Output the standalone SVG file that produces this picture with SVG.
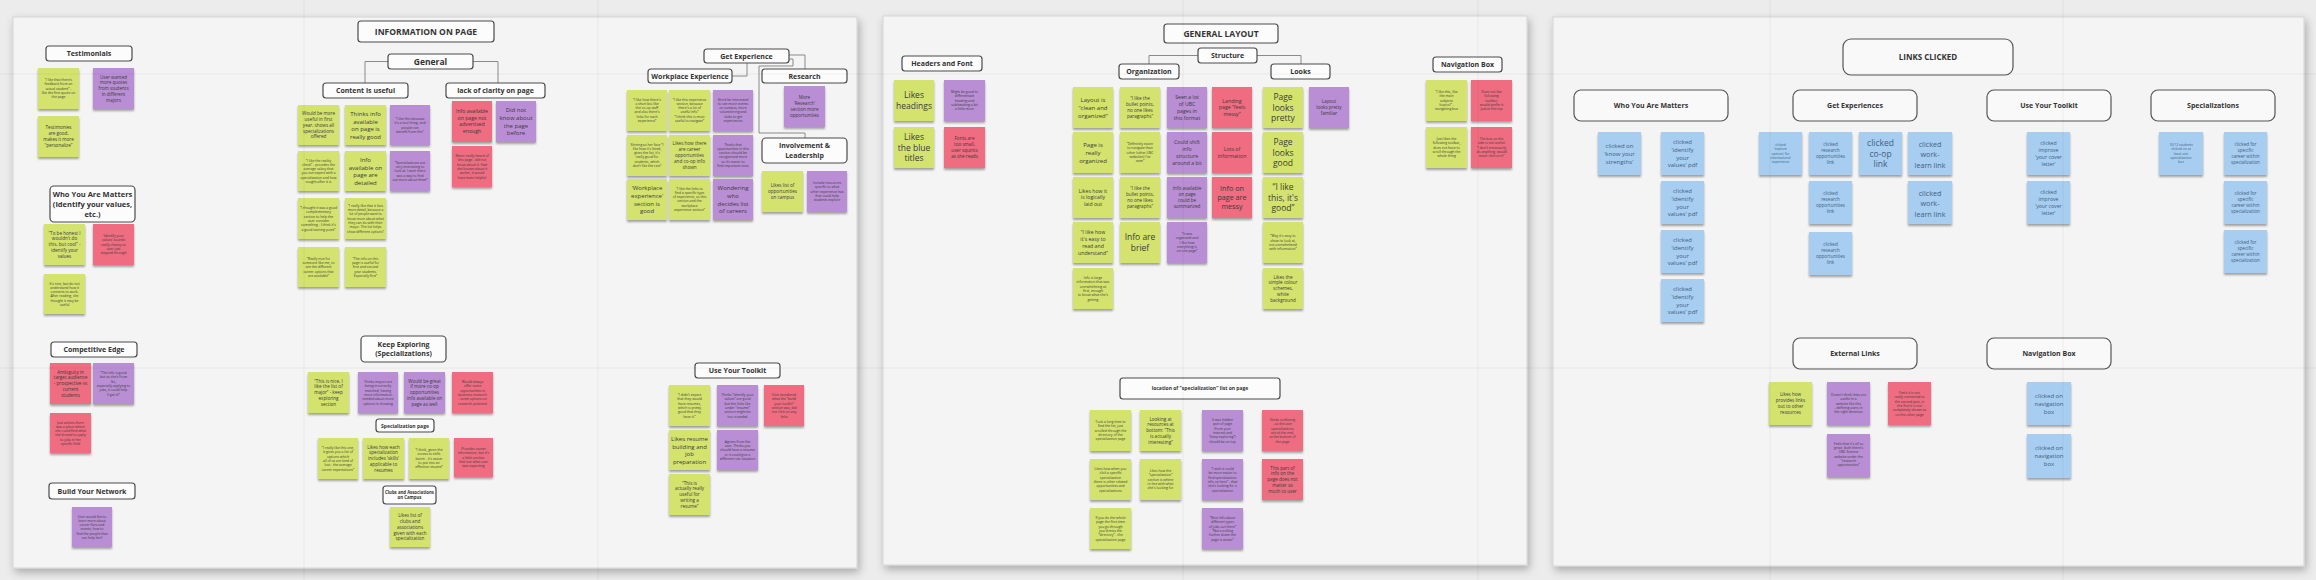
<svg xmlns="http://www.w3.org/2000/svg" width="2316" height="580" viewBox="0 0 2316 580">
<defs>
<filter id="ps" x="-5%" y="-5%" width="110%" height="112%"><feDropShadow dx="2" dy="4" stdDeviation="4" flood-color="#000" flood-opacity="0.28"/></filter>
<filter id="ss" x="-20%" y="-20%" width="140%" height="150%"><feDropShadow dx="0" dy="2" stdDeviation="1.2" flood-color="#000" flood-opacity="0.35"/></filter>
</defs>
<style>
.panel{fill:#f4f4f4;stroke:#d4d4d4;stroke-width:1;filter:url(#ps)}
.hb{fill:#fcfcfc;stroke:#4a4a4a;stroke-width:1.2}
.hb3{fill:#f9f9f9;stroke:#555;stroke-width:1.2}
.ht{font-family:"Open Sans","Liberation Sans",sans-serif;font-weight:700;fill:#333;text-anchor:middle}
.h85{font-size:8.5px}.h8{font-size:8px}.h75{font-size:7.5px}.h7{font-size:7px}.h5{font-size:5px}.h43{font-size:4.3px}
.sg,.sp,.sr,.sb{filter:url(#ss)}
.sg{fill:#d4e36e}.sp{fill:#b98ed5}.sr{fill:#ef6c81}.sb{fill:#a7cdf1}
.t{font-family:"Open Sans","Liberation Sans",sans-serif;fill:#3b3b3b;text-anchor:middle}
.tb{fill:#3f5f80}
.xs{font-size:3.4px}.s{font-size:4.6px}.ms{font-size:5.2px}.m{font-size:6px}.ml{font-size:7.2px}.l{font-size:8.5px}
.conn path{fill:none;stroke:#8a8a8a;stroke-width:1}
.grid line{stroke:#000;stroke-opacity:0.05;stroke-width:1}
</style>
<rect width="2316" height="580" fill="#ececec"/>
<g id="panels">
<rect class="panel" x="13" y="17" width="844" height="551"/>
<rect class="panel" x="883" y="16" width="644" height="549"/>
<rect class="panel" x="1553" y="17" width="751" height="549"/>
</g>
<g class="conn" id="connectors">
<path d="M388,61.5 H365 V83"/>
<path d="M473,61.5 H498 V83"/>
<path d="M747,63 V76 H732"/>
<path d="M789,55 H805 V69"/>
<path d="M789,59 H793 V66 H759 V133 H805 V138"/>
<path d="M1198,55.5 H1149 V64"/>
<path d="M1257,55.5 H1301 V64"/>
</g>

<!-- PANEL 1 -->
<g id="h-info"><rect class="hb" x="358" y="21" width="136" height="21" rx="3"/><text class="ht h85" x="426" y="34.8">INFORMATION ON PAGE</text></g>
<g id="h-general"><rect class="hb" x="388" y="54" width="85" height="15" rx="3"/><text class="ht h85" x="430.5" y="64.6">General</text></g>
<g id="h-content"><rect class="hb" x="323" y="83" width="85" height="15" rx="3"/><text class="ht h7" x="365.5" y="93.2">Content is useful</text></g>
<g id="h-lack"><rect class="hb" x="446" y="83" width="99" height="15" rx="3"/><text class="ht h7" x="495.5" y="93.2">lack of clarity on page</text></g>
<g id="h-testimonials"><rect class="hb" x="46" y="46" width="86" height="15" rx="3"/><text class="ht h7" x="89" y="56.2">Testimonials</text></g>
<g id="h-wyam1"><rect class="hb" x="50" y="186" width="85" height="36" rx="4"/><text class="ht h75" x="92.5" y="196.5"><tspan x="92.5">Who You Are Matters</tspan><tspan x="92.5" dy="10.3">(Identify your values,</tspan><tspan x="92.5" dy="10.3">etc.)</tspan></text></g>
<g id="h-competitive"><rect class="hb" x="51" y="342" width="86" height="15" rx="3"/><text class="ht h7" x="94" y="352.2">Competitive Edge</text></g>
<g id="h-network"><rect class="hb" x="49" y="483" width="86" height="16" rx="3"/><text class="ht h7" x="92" y="493.7">Build Your Network</text></g>
<g id="h-getexp"><rect class="hb" x="704" y="49" width="85" height="14" rx="3"/><text class="ht h7" x="746.5" y="58.7">Get Experience</text></g>
<g id="h-workplace"><rect class="hb" x="648" y="69" width="84" height="14" rx="3"/><text class="ht h7" x="690" y="78.7">Workplace Experience</text></g>
<g id="h-research"><rect class="hb" x="762" y="69" width="85" height="14" rx="3"/><text class="ht h7" x="804.5" y="78.7">Research</text></g>
<g id="h-involve"><rect class="hb" x="762" y="138" width="85" height="25" rx="4"/><text class="ht h7" x="804.5" y="148.2"><tspan x="804.5">Involvement &amp;</tspan><tspan x="804.5" dy="9.5">Leadership</tspan></text></g>
<g id="h-keep"><rect class="hb" x="361" y="336" width="85" height="26" rx="4"/><text class="ht h7" x="403.5" y="347"><tspan x="403.5">Keep Exploring</tspan><tspan x="403.5" dy="9">(Specializations)</tspan></text></g>
<g id="h-specpage"><rect class="hb" x="376" y="419" width="58" height="13" rx="3"/><text class="ht h5" x="405" y="427.5">Specialization page</text></g>
<g id="h-clubs"><rect class="hb" x="383" y="486" width="53" height="18" rx="3"/><text class="ht h43" x="409.5" y="493.7"><tspan x="409.5">Clubs and Associations</tspan><tspan x="409.5" dy="5.6">on Campus</tspan></text></g>
<g id="h-toolkit1"><rect class="hb" x="695" y="363" width="85" height="15" rx="3"/><text class="ht h7" x="737.5" y="373.2">Use Your Toolkit</text></g>

<g id="t1"><rect class="sg" x="38" y="68" width="41" height="41"/><text class="t xs" x="58.5" y="81.1"><tspan x="58.5">“I like that there's</tspan><tspan x="58.5" dy="4.3">feedback from an</tspan><tspan x="58.5" dy="4.3">actual student” -</tspan><tspan x="58.5" dy="4.3">like the first quote on</tspan><tspan x="58.5" dy="4.3">the page</tspan></text></g>
<g id="t2"><rect class="sp" x="93" y="68" width="41" height="41"/><text class="t s" x="113.5" y="78.5"><tspan x="113.5">User wanted</tspan><tspan x="113.5" dy="5.8">more quotes</tspan><tspan x="113.5" dy="5.8">from students</tspan><tspan x="113.5" dy="5.8">in different</tspan><tspan x="113.5" dy="5.8">majors</tspan></text></g>
<g id="t3"><rect class="sg" x="38" y="116" width="41" height="41"/><text class="t s" x="58.5" y="129.4"><tspan x="58.5">Testimonies</tspan><tspan x="58.5" dy="5.8">are good,</tspan><tspan x="58.5" dy="5.8">makes it more</tspan><tspan x="58.5" dy="5.8">“personalize”</tspan></text></g>
<g id="wy1"><rect class="sg" x="44" y="224" width="41" height="41"/><text class="t s" x="64.5" y="234.5"><tspan x="64.5">“To be honest I</tspan><tspan x="64.5" dy="5.8">wouldn't do</tspan><tspan x="64.5" dy="5.8">this, but cool” -</tspan><tspan x="64.5" dy="5.8">identify your</tspan><tspan x="64.5" dy="5.8">values</tspan></text></g>
<g id="wy2"><rect class="sr" x="93" y="224" width="41" height="41"/><text class="t xs" x="113.5" y="237.1"><tspan x="113.5">‘Identify your</tspan><tspan x="113.5" dy="4.3">values’ sounds</tspan><tspan x="113.5" dy="4.3">really cheesy so</tspan><tspan x="113.5" dy="4.3">user just</tspan><tspan x="113.5" dy="4.3">skipped through</tspan></text></g>
<g id="wy3"><rect class="sg" x="44" y="274" width="41" height="40"/><text class="t xs" x="64.5" y="284.5"><tspan x="64.5">It's nice, but do not</tspan><tspan x="64.5" dy="4.3">understand how it</tspan><tspan x="64.5" dy="4.3">connects to work.</tspan><tspan x="64.5" dy="4.3">After reading, she</tspan><tspan x="64.5" dy="4.3">thought it may be</tspan><tspan x="64.5" dy="4.3">useful</tspan></text></g>
<g id="ce1"><rect class="sr" x="50" y="363" width="41" height="41"/><text class="t s" x="70.5" y="373.5"><tspan x="70.5">Ambiguity in</tspan><tspan x="70.5" dy="5.8">target audience</tspan><tspan x="70.5" dy="5.8">- prospective vs</tspan><tspan x="70.5" dy="5.8">current</tspan><tspan x="70.5" dy="5.8">students</tspan></text></g>
<g id="ce2"><rect class="sp" x="93" y="363" width="41" height="41"/><text class="t xs" x="113.5" y="374"><tspan x="113.5">“The info is good</tspan><tspan x="113.5" dy="4.3">but as she's from</tspan><tspan x="113.5" dy="4.3">Sci,</tspan><tspan x="113.5" dy="4.3">especially applying to</tspan><tspan x="113.5" dy="4.3">jobs, it could help</tspan><tspan x="113.5" dy="4.3">(I get it)”</tspan></text></g>
<g id="ce3"><rect class="sr" x="50" y="413" width="41" height="40"/><text class="t xs" x="70.5" y="423.5"><tspan x="70.5">Just wishes there</tspan><tspan x="70.5" dy="4.3">was a place where</tspan><tspan x="70.5" dy="4.3">she could find what</tspan><tspan x="70.5" dy="4.3">she'd need to apply</tspan><tspan x="70.5" dy="4.3">to jobs in her</tspan><tspan x="70.5" dy="4.3">specific field</tspan></text></g>
<g id="bn1"><rect class="sp" x="72" y="507" width="40" height="40"/><text class="t xs" x="92" y="517.5"><tspan x="92">User would like to</tspan><tspan x="92" dy="4.3">learn more about</tspan><tspan x="92" dy="4.3">career fairs and</tspan><tspan x="92" dy="4.3">events; how to</tspan><tspan x="92" dy="4.3">find the people that</tspan><tspan x="92" dy="4.3">can help her?</tspan></text></g>

<g id="c1"><rect class="sg" x="298" y="105" width="41" height="40"/><text class="t s" x="318.5" y="115.2"><tspan x="318.5">Would be more</tspan><tspan x="318.5" dy="5.8">useful in first</tspan><tspan x="318.5" dy="5.8">year, shows all</tspan><tspan x="318.5" dy="5.8">specializations</tspan><tspan x="318.5" dy="5.8">offered</tspan></text></g>
<g id="c2"><rect class="sg" x="345" y="105" width="41" height="40"/><text class="t m" x="365.5" y="115.7"><tspan x="365.5">Thinks info</tspan><tspan x="365.5" dy="7.8">available</tspan><tspan x="365.5" dy="7.8">on page is</tspan><tspan x="365.5" dy="7.8">really good</tspan></text></g>
<g id="c3"><rect class="sp" x="390" y="105" width="40" height="40"/><text class="t xs" x="410" y="120"><tspan x="410">“I like this because</tspan><tspan x="410" dy="4.3">it's a tool thing, and</tspan><tspan x="410" dy="4.3">people can</tspan><tspan x="410" dy="4.3">benefit from this”</tspan></text></g>
<g id="c4"><rect class="sg" x="298" y="151" width="41" height="40"/><text class="t xs" x="318.5" y="161.5"><tspan x="318.5">“I like the reality</tspan><tspan x="318.5" dy="4.3">check” - provides the</tspan><tspan x="318.5" dy="4.3">average salary that</tspan><tspan x="318.5" dy="4.3">you can expect with a</tspan><tspan x="318.5" dy="4.3">specialization and how</tspan><tspan x="318.5" dy="4.3">sought-after it is</tspan></text></g>
<g id="c5"><rect class="sg" x="345" y="151" width="41" height="40"/><text class="t m" x="365.5" y="161.7"><tspan x="365.5">Info</tspan><tspan x="365.5" dy="7.8">available on</tspan><tspan x="365.5" dy="7.8">page are</tspan><tspan x="365.5" dy="7.8">detailed</tspan></text></g>
<g id="c6"><rect class="sp" x="390" y="151" width="40" height="40"/><text class="t xs" x="410" y="163.8"><tspan x="410">“Specializations are</tspan><tspan x="410" dy="4.3">very interesting to</tspan><tspan x="410" dy="4.3">look at. I wish there</tspan><tspan x="410" dy="4.3">was a way to find</tspan><tspan x="410" dy="4.3">out more about them”</tspan></text></g>
<g id="c7"><rect class="sg" x="298" y="198" width="41" height="41"/><text class="t xs" x="318.5" y="209"><tspan x="318.5">“I thought it was a good</tspan><tspan x="318.5" dy="4.3">complementary</tspan><tspan x="318.5" dy="4.3">section to help the</tspan><tspan x="318.5" dy="4.3">user consider</tspan><tspan x="318.5" dy="4.3">something - I think it's</tspan><tspan x="318.5" dy="4.3">a good starting point”</tspan></text></g>
<g id="c8"><rect class="sg" x="345" y="198" width="41" height="41"/><text class="t xs" x="365.5" y="206.8"><tspan x="365.5">“I really like that it lists</tspan><tspan x="365.5" dy="4.3">more detail, because a</tspan><tspan x="365.5" dy="4.3">lot of people want to</tspan><tspan x="365.5" dy="4.3">know more about what</tspan><tspan x="365.5" dy="4.3">they can do with their</tspan><tspan x="365.5" dy="4.3">major. The list helps</tspan><tspan x="365.5" dy="4.3">show different options”</tspan></text></g>
<g id="c9"><rect class="sg" x="298" y="247" width="41" height="40"/><text class="t xs" x="318.5" y="259.6"><tspan x="318.5">“Really nice for</tspan><tspan x="318.5" dy="4.3">someone like me, to</tspan><tspan x="318.5" dy="4.3">see the different</tspan><tspan x="318.5" dy="4.3">career options that</tspan><tspan x="318.5" dy="4.3">are available”</tspan></text></g>
<g id="c10"><rect class="sg" x="345" y="247" width="41" height="40"/><text class="t xs" x="365.5" y="259.6"><tspan x="365.5">“The info on this</tspan><tspan x="365.5" dy="4.3">page is useful for</tspan><tspan x="365.5" dy="4.3">first and second</tspan><tspan x="365.5" dy="4.3">year students.</tspan><tspan x="365.5" dy="4.3">Especially first”</tspan></text></g>
<g id="l1"><rect class="sr" x="452" y="101" width="40" height="41"/><text class="t ms" x="472" y="112.7"><tspan x="472">Info available</tspan><tspan x="472" dy="6.8">on page not</tspan><tspan x="472" dy="6.8">advertised</tspan><tspan x="472" dy="6.8">enough</tspan></text></g>
<g id="l2"><rect class="sr" x="452" y="146" width="40" height="41"/><text class="t xs" x="472" y="157"><tspan x="472">Never really heard of</tspan><tspan x="472" dy="4.3">this page - did not</tspan><tspan x="472" dy="4.3">know about it. Had</tspan><tspan x="472" dy="4.3">she known about it</tspan><tspan x="472" dy="4.3">earlier, it would</tspan><tspan x="472" dy="4.3">have been helpful</tspan></text></g>
<g id="l3"><rect class="sp" x="496" y="101" width="40" height="41"/><text class="t m" x="516" y="112"><tspan x="516">Did not</tspan><tspan x="516" dy="7.8">know about</tspan><tspan x="516" dy="7.8">the page</tspan><tspan x="516" dy="7.8">before</tspan></text></g>

<g id="w1"><rect class="sg" x="627" y="90" width="40" height="41"/><text class="t xs" x="647" y="100.5"><tspan x="647">“I like how there's</tspan><tspan x="647" dy="4.3">a short bio like</tspan><tspan x="647" dy="4.3">the co-op staff</tspan><tspan x="647" dy="4.3">and also there's</tspan><tspan x="647" dy="4.3">links for each</tspan><tspan x="647" dy="4.3">experience”</tspan></text></g>
<g id="w2"><rect class="sg" x="669" y="90" width="41" height="41"/><text class="t xs" x="689.5" y="100.5"><tspan x="689.5">“I like this experience</tspan><tspan x="689.5" dy="4.3">section, because</tspan><tspan x="689.5" dy="4.3">there's a lot of</tspan><tspan x="689.5" dy="4.3">useful info”</tspan><tspan x="689.5" dy="4.3">“I think this is most</tspan><tspan x="689.5" dy="4.3">useful to navigate”</tspan></text></g>
<g id="w3"><rect class="sp" x="713" y="90" width="40" height="41"/><text class="t xs" x="733" y="100.5"><tspan x="733">She'd be interested</tspan><tspan x="733" dy="4.3">to see more events</tspan><tspan x="733" dy="4.3">on campus, more</tspan><tspan x="733" dy="4.3">volunteering and</tspan><tspan x="733" dy="4.3">clubs to get</tspan><tspan x="733" dy="4.3">experiences</tspan></text></g>
<g id="w4"><rect class="sg" x="627" y="135" width="40" height="41"/><text class="t xs" x="647" y="145.5"><tspan x="647">Shining as her fave “I</tspan><tspan x="647" dy="4.3">like how it's listed,</tspan><tspan x="647" dy="4.3">gives the list, it's</tspan><tspan x="647" dy="4.3">really good for</tspan><tspan x="647" dy="4.3">students, which</tspan><tspan x="647" dy="4.3">don't like the rest”</tspan></text></g>
<g id="w5"><rect class="sg" x="669" y="135" width="41" height="41"/><text class="t s" x="689.5" y="145.3"><tspan x="689.5">Likes how there</tspan><tspan x="689.5" dy="5.8">are career</tspan><tspan x="689.5" dy="5.8">opportunities</tspan><tspan x="689.5" dy="5.8">and co-op info</tspan><tspan x="689.5" dy="5.8">shown</tspan></text></g>
<g id="w6"><rect class="sp" x="713" y="135" width="40" height="41"/><text class="t xs" x="733" y="145.5"><tspan x="733">Thinks that</tspan><tspan x="733" dy="4.3">opportunities in this</tspan><tspan x="733" dy="4.3">section should be</tspan><tspan x="733" dy="4.3">reorganized more</tspan><tspan x="733" dy="4.3">so it's easier to</tspan><tspan x="733" dy="4.3">find important ones</tspan></text></g>
<g id="w7"><rect class="sg" x="627" y="179" width="40" height="41"/><text class="t m" x="647" y="190"><tspan x="647">‘Workplace</tspan><tspan x="647" dy="7.8">experience’</tspan><tspan x="647" dy="7.8">section is</tspan><tspan x="647" dy="7.8">good</tspan></text></g>
<g id="w8"><rect class="sg" x="669" y="179" width="41" height="41"/><text class="t xs" x="689.5" y="189.5"><tspan x="689.5">“I like the links to</tspan><tspan x="689.5" dy="4.3">find a specific type</tspan><tspan x="689.5" dy="4.3">of experience, so this</tspan><tspan x="689.5" dy="4.3">section and the</tspan><tspan x="689.5" dy="4.3">workplace</tspan><tspan x="689.5" dy="4.3">experience section”</tspan></text></g>
<g id="w9"><rect class="sp" x="713" y="179" width="40" height="41"/><text class="t m" x="733" y="190"><tspan x="733">Wondering</tspan><tspan x="733" dy="7.8">who</tspan><tspan x="733" dy="7.8">decides list</tspan><tspan x="733" dy="7.8">of careers</tspan></text></g>
<g id="r1"><rect class="sp" x="784" y="86" width="41" height="41"/><text class="t s" x="804.5" y="99.4"><tspan x="804.5">More</tspan><tspan x="804.5" dy="5.8">‘Research’</tspan><tspan x="804.5" dy="5.8">section more</tspan><tspan x="804.5" dy="5.8">opportunities</tspan></text></g>
<g id="i1"><rect class="sg" x="762" y="171" width="41" height="41"/><text class="t s" x="782.5" y="187.3"><tspan x="782.5">Likes list of</tspan><tspan x="782.5" dy="5.8">opportunities</tspan><tspan x="782.5" dy="5.8">on campus</tspan></text></g>
<g id="i2"><rect class="sp" x="807" y="171" width="40" height="41"/><text class="t xs" x="827" y="184.1"><tspan x="827">Include resources</tspan><tspan x="827" dy="4.3">specific to what</tspan><tspan x="827" dy="4.3">other experience has</tspan><tspan x="827" dy="4.3">that could help</tspan><tspan x="827" dy="4.3">students explore</tspan></text></g>

<g id="k1"><rect class="sg" x="308" y="372" width="41" height="41"/><text class="t s" x="328.5" y="382.5"><tspan x="328.5">“This is nice, I</tspan><tspan x="328.5" dy="5.8">like the list of</tspan><tspan x="328.5" dy="5.8">major” - keep</tspan><tspan x="328.5" dy="5.8">exploring</tspan><tspan x="328.5" dy="5.8">section</tspan></text></g>
<g id="k2"><rect class="sp" x="358" y="372" width="40" height="41"/><text class="t xs" x="378" y="383"><tspan x="378">Thinks majors are</tspan><tspan x="378" dy="4.3">being incorrectly</tspan><tspan x="378" dy="4.3">matched, having</tspan><tspan x="378" dy="4.3">more information</tspan><tspan x="378" dy="4.3">needed about more</tspan><tspan x="378" dy="4.3">options in showing</tspan></text></g>
<g id="k3"><rect class="sp" x="404" y="372" width="41" height="41"/><text class="t s" x="424.5" y="382.5"><tspan x="424.5">Would be great</tspan><tspan x="424.5" dy="5.8">if more co-op</tspan><tspan x="424.5" dy="5.8">opportunities</tspan><tspan x="424.5" dy="5.8">info available on</tspan><tspan x="424.5" dy="5.8">page as well</tspan></text></g>
<g id="k4"><rect class="sr" x="452" y="372" width="41" height="41"/><text class="t xs" x="472.5" y="383"><tspan x="472.5">Would always</tspan><tspan x="472.5" dy="4.3">offer some</tspan><tspan x="472.5" dy="4.3">opportunities in</tspan><tspan x="472.5" dy="4.3">business research</tspan><tspan x="472.5" dy="4.3">- some options on</tspan><tspan x="472.5" dy="4.3">research potential</tspan></text></g>
<g id="k5"><rect class="sg" x="318" y="438" width="40" height="41"/><text class="t xs" x="338" y="449"><tspan x="338">“I really like this one,</tspan><tspan x="338" dy="4.3">it gives you a list of</tspan><tspan x="338" dy="4.3">options which</tspan><tspan x="338" dy="4.3">all of us are kind of</tspan><tspan x="338" dy="4.3">lost - the average</tspan><tspan x="338" dy="4.3">career expectations”</tspan></text></g>
<g id="k6"><rect class="sg" x="363" y="438" width="41" height="41"/><text class="t s" x="383.5" y="448.5"><tspan x="383.5">Likes how each</tspan><tspan x="383.5" dy="5.8">specialization</tspan><tspan x="383.5" dy="5.8">includes ‘skills’</tspan><tspan x="383.5" dy="5.8">applicable to</tspan><tspan x="383.5" dy="5.8">resumes</tspan></text></g>
<g id="k7"><rect class="sg" x="409" y="438" width="40" height="41"/><text class="t xs" x="429" y="451.1"><tspan x="429">“I think, given the</tspan><tspan x="429" dy="4.3">access to skills</tspan><tspan x="429" dy="4.3">learnt - it's easier</tspan><tspan x="429" dy="4.3">to put into an</tspan><tspan x="429" dy="4.3">effective resume”</tspan></text></g>
<g id="k8"><rect class="sr" x="454" y="438" width="39" height="39"/><text class="t xs" x="473.5" y="450"><tspan x="473.5">Provides career</tspan><tspan x="473.5" dy="4.3">information, but it's</tspan><tspan x="473.5" dy="4.3">a little unclear</tspan><tspan x="473.5" dy="4.3">that not what user</tspan><tspan x="473.5" dy="4.3">was expecting</tspan></text></g>
<g id="k9"><rect class="sg" x="390" y="507" width="40" height="40"/><text class="t s" x="410" y="517.2"><tspan x="410">Likes list of</tspan><tspan x="410" dy="5.8">clubs and</tspan><tspan x="410" dy="5.8">associations</tspan><tspan x="410" dy="5.8">given with each</tspan><tspan x="410" dy="5.8">specialization</tspan></text></g>

<g id="u1"><rect class="sg" x="669" y="385" width="41" height="41"/><text class="t xs" x="689.5" y="396"><tspan x="689.5">“I didn't expect</tspan><tspan x="689.5" dy="4.3">that they would</tspan><tspan x="689.5" dy="4.3">have resumes,</tspan><tspan x="689.5" dy="4.3">which is pretty</tspan><tspan x="689.5" dy="4.3">good that they</tspan><tspan x="689.5" dy="4.3">have it.”</tspan></text></g>
<g id="u2"><rect class="sp" x="717" y="385" width="41" height="41"/><text class="t xs" x="737.5" y="396"><tspan x="737.5">Thinks “identify your</tspan><tspan x="737.5" dy="4.3">values” are good</tspan><tspan x="737.5" dy="4.3">but the links like</tspan><tspan x="737.5" dy="4.3">under “resume”</tspan><tspan x="737.5" dy="4.3">section might be</tspan><tspan x="737.5" dy="4.3">too crowded</tspan></text></g>
<g id="u3"><rect class="sr" x="764" y="385" width="40" height="41"/><text class="t xs" x="784" y="396"><tspan x="784">User wondered</tspan><tspan x="784" dy="4.3">what the “build</tspan><tspan x="784" dy="4.3">your toolkit”</tspan><tspan x="784" dy="4.3">section was, did</tspan><tspan x="784" dy="4.3">not click on any</tspan><tspan x="784" dy="4.3">links</tspan></text></g>
<g id="u4"><rect class="sg" x="669" y="430" width="41" height="40"/><text class="t m" x="689.5" y="440.7"><tspan x="689.5">Likes resume</tspan><tspan x="689.5" dy="7.8">building and</tspan><tspan x="689.5" dy="7.8">job</tspan><tspan x="689.5" dy="7.8">preparation</tspan></text></g>
<g id="u5"><rect class="sp" x="717" y="430" width="41" height="40"/><text class="t xs" x="737.5" y="442.8"><tspan x="737.5">Agrees from the</tspan><tspan x="737.5" dy="4.3">user. Thinks you</tspan><tspan x="737.5" dy="4.3">should have a resume</tspan><tspan x="737.5" dy="4.3">or it could give a</tspan><tspan x="737.5" dy="4.3">different role situation</tspan></text></g>
<g id="u6"><rect class="sg" x="669" y="474" width="41" height="41"/><text class="t s" x="689.5" y="484.5"><tspan x="689.5">“This is</tspan><tspan x="689.5" dy="5.8">actually really</tspan><tspan x="689.5" dy="5.8">useful for</tspan><tspan x="689.5" dy="5.8">writing a</tspan><tspan x="689.5" dy="5.8">resume”</tspan></text></g>

<!-- PANEL 2 -->
<g id="h-layout"><rect class="hb" x="1164" y="24" width="114" height="19" rx="3"/><text class="ht h85" x="1221" y="36.6">GENERAL LAYOUT</text></g>
<g id="h-structure"><rect class="hb" x="1198" y="48" width="59" height="15" rx="3"/><text class="ht h7" x="1227.5" y="58.2">Structure</text></g>
<g id="h-org"><rect class="hb" x="1119" y="64" width="60" height="15" rx="3"/><text class="ht h7" x="1149" y="74.2">Organization</text></g>
<g id="h-looks"><rect class="hb" x="1271" y="64" width="59" height="15" rx="3"/><text class="ht h7" x="1300.5" y="74.2">Looks</text></g>
<g id="h-headers"><rect class="hb" x="902" y="56" width="80" height="15" rx="3"/><text class="ht h7" x="942" y="66.2">Headers and Font</text></g>
<g id="h-nav1"><rect class="hb" x="1433" y="57" width="69" height="15" rx="3"/><text class="ht h7" x="1467.5" y="67.2">Navigation Box</text></g>
<g id="h-location"><rect class="hb" x="1120" y="378" width="160" height="21" rx="3"/><text class="ht h5" x="1200" y="390.3">location of “specialization” list on page</text></g>

<g id="hf1"><rect class="sg" x="894" y="80" width="40" height="41"/><text class="t l" x="914" y="98.1"><tspan x="914">Likes</tspan><tspan x="914" dy="10.8">headings</tspan></text></g>
<g id="hf2"><rect class="sp" x="944" y="80" width="41" height="41"/><text class="t xs" x="964.5" y="93.1"><tspan x="964.5">Might be good to</tspan><tspan x="964.5" dy="4.3">differentiate</tspan><tspan x="964.5" dy="4.3">heading and</tspan><tspan x="964.5" dy="4.3">subheading a bit</tspan><tspan x="964.5" dy="4.3">a little more</tspan></text></g>
<g id="hf3"><rect class="sg" x="894" y="127" width="40" height="41"/><text class="t l" x="914" y="139.7"><tspan x="914">Likes</tspan><tspan x="914" dy="10.8">the blue</tspan><tspan x="914" dy="10.8">titles</tspan></text></g>
<g id="hf4"><rect class="sr" x="944" y="127" width="41" height="41"/><text class="t s" x="964.5" y="140.4"><tspan x="964.5">Fonts are</tspan><tspan x="964.5" dy="5.8">too small,</tspan><tspan x="964.5" dy="5.8">user squints</tspan><tspan x="964.5" dy="5.8">as she reads</tspan></text></g>

<g id="o1"><rect class="sg" x="1073" y="87" width="40" height="41"/><text class="t m" x="1093" y="101.9"><tspan x="1093">Layout is</tspan><tspan x="1093" dy="7.8">“clean and</tspan><tspan x="1093" dy="7.8">organized”</tspan></text></g>
<g id="o2"><rect class="sg" x="1073" y="132" width="40" height="41"/><text class="t m" x="1093" y="146.9"><tspan x="1093">Page is</tspan><tspan x="1093" dy="7.8">really</tspan><tspan x="1093" dy="7.8">organized</tspan></text></g>
<g id="o3"><rect class="sg" x="1073" y="177" width="40" height="41"/><text class="t ms" x="1093" y="192.5"><tspan x="1093">Likes how it</tspan><tspan x="1093" dy="6.8">is logically</tspan><tspan x="1093" dy="6.8">laid out</tspan></text></g>
<g id="o4"><rect class="sg" x="1073" y="222" width="40" height="41"/><text class="t ms" x="1093" y="234.1"><tspan x="1093">“I like how</tspan><tspan x="1093" dy="6.8">it's easy to</tspan><tspan x="1093" dy="6.8">read and</tspan><tspan x="1093" dy="6.8">understand”</tspan></text></g>
<g id="o5"><rect class="sg" x="1073" y="268" width="40" height="41"/><text class="t xs" x="1093" y="279"><tspan x="1093">Info is large</tspan><tspan x="1093" dy="4.3">information that was</tspan><tspan x="1093" dy="4.3">overwhelming at</tspan><tspan x="1093" dy="4.3">first, enough</tspan><tspan x="1093" dy="4.3">to know what she's</tspan><tspan x="1093" dy="4.3">getting</tspan></text></g>
<g id="o6"><rect class="sg" x="1120" y="87" width="40" height="41"/><text class="t s" x="1140" y="100.4"><tspan x="1140">“I like the</tspan><tspan x="1140" dy="5.8">bullet points,</tspan><tspan x="1140" dy="5.8">no one likes</tspan><tspan x="1140" dy="5.8">paragraphs”</tspan></text></g>
<g id="o7"><rect class="sg" x="1120" y="132" width="40" height="41"/><text class="t xs" x="1140" y="145.1"><tspan x="1140">“Definitely easier</tspan><tspan x="1140" dy="4.3">to navigate than</tspan><tspan x="1140" dy="4.3">other (other UBC</tspan><tspan x="1140" dy="4.3">websites) I've</tspan><tspan x="1140" dy="4.3">seen”</tspan></text></g>
<g id="o8"><rect class="sg" x="1120" y="177" width="40" height="41"/><text class="t s" x="1140" y="190.4"><tspan x="1140">“I like the</tspan><tspan x="1140" dy="5.8">bullet points,</tspan><tspan x="1140" dy="5.8">no one likes</tspan><tspan x="1140" dy="5.8">paragraphs”</tspan></text></g>
<g id="o9"><rect class="sg" x="1120" y="222" width="40" height="41"/><text class="t l" x="1140" y="240.1"><tspan x="1140">Info are</tspan><tspan x="1140" dy="10.8">brief</tspan></text></g>
<g id="o10"><rect class="sp" x="1167" y="87" width="40" height="41"/><text class="t ms" x="1187" y="99.1"><tspan x="1187">Seen a lot</tspan><tspan x="1187" dy="6.8">of UBC</tspan><tspan x="1187" dy="6.8">pages in</tspan><tspan x="1187" dy="6.8">this format</tspan></text></g>
<g id="o11"><rect class="sp" x="1167" y="132" width="40" height="41"/><text class="t ms" x="1187" y="144.1"><tspan x="1187">Could shift</tspan><tspan x="1187" dy="6.8">info</tspan><tspan x="1187" dy="6.8">structure</tspan><tspan x="1187" dy="6.8">around a bit</tspan></text></g>
<g id="o12"><rect class="sp" x="1167" y="177" width="40" height="41"/><text class="t s" x="1187" y="190.4"><tspan x="1187">Info available</tspan><tspan x="1187" dy="5.8">on page</tspan><tspan x="1187" dy="5.8">could be</tspan><tspan x="1187" dy="5.8">summarized</tspan></text></g>
<g id="o13"><rect class="sp" x="1167" y="222" width="40" height="41"/><text class="t xs" x="1187" y="235.1"><tspan x="1187">“It was</tspan><tspan x="1187" dy="4.3">organized and</tspan><tspan x="1187" dy="4.3">I like how</tspan><tspan x="1187" dy="4.3">everything is</tspan><tspan x="1187" dy="4.3">on one page”</tspan></text></g>
<g id="o14"><rect class="sr" x="1212" y="87" width="40" height="41"/><text class="t ms" x="1232" y="102.5"><tspan x="1232">Landing</tspan><tspan x="1232" dy="6.8">page “feels</tspan><tspan x="1232" dy="6.8">messy”</tspan></text></g>
<g id="o15"><rect class="sr" x="1212" y="132" width="40" height="41"/><text class="t ms" x="1232" y="150.9"><tspan x="1232">Lots of</tspan><tspan x="1232" dy="6.8">information</tspan></text></g>
<g id="o16"><rect class="sr" x="1212" y="177" width="40" height="41"/><text class="t ml" x="1232" y="191"><tspan x="1232">Info on</tspan><tspan x="1232" dy="9">page are</tspan><tspan x="1232" dy="9">messy</tspan></text></g>
<g id="lk1"><rect class="sg" x="1263" y="87" width="40" height="41"/><text class="t l" x="1283" y="99.7"><tspan x="1283">Page</tspan><tspan x="1283" dy="10.8">looks</tspan><tspan x="1283" dy="10.8">pretty</tspan></text></g>
<g id="lk2"><rect class="sg" x="1263" y="132" width="40" height="41"/><text class="t l" x="1283" y="144.7"><tspan x="1283">Page</tspan><tspan x="1283" dy="10.8">looks</tspan><tspan x="1283" dy="10.8">good</tspan></text></g>
<g id="lk3"><rect class="sg" x="1263" y="177" width="40" height="41"/><text class="t l" x="1283" y="189.7"><tspan x="1283">“I like</tspan><tspan x="1283" dy="10.8">this, it's</tspan><tspan x="1283" dy="10.8">good”</tspan></text></g>
<g id="lk4"><rect class="sg" x="1263" y="222" width="40" height="41"/><text class="t xs" x="1283" y="237.3"><tspan x="1283">“Way it's easy to</tspan><tspan x="1283" dy="4.3">show its look at,</tspan><tspan x="1283" dy="4.3">not overwhelmed</tspan><tspan x="1283" dy="4.3">with information”</tspan></text></g>
<g id="lk5"><rect class="sg" x="1263" y="268" width="40" height="41"/><text class="t s" x="1283" y="278.5"><tspan x="1283">Likes the</tspan><tspan x="1283" dy="5.8">simple colour</tspan><tspan x="1283" dy="5.8">schemes,</tspan><tspan x="1283" dy="5.8">white</tspan><tspan x="1283" dy="5.8">background</tspan></text></g>
<g id="lk6"><rect class="sp" x="1309" y="87" width="40" height="41"/><text class="t s" x="1329" y="103.3"><tspan x="1329">Layout</tspan><tspan x="1329" dy="5.8">looks pretty</tspan><tspan x="1329" dy="5.8">familiar</tspan></text></g>

<g id="nv1"><rect class="sg" x="1426" y="80" width="41" height="41"/><text class="t xs" x="1446.5" y="93.1"><tspan x="1446.5">“I like this, like</tspan><tspan x="1446.5" dy="4.3">the main</tspan><tspan x="1446.5" dy="4.3">subjects</tspan><tspan x="1446.5" dy="4.3">(topics)” -</tspan><tspan x="1446.5" dy="4.3">navigating box</tspan></text></g>
<g id="nv2"><rect class="sr" x="1471" y="80" width="41" height="41"/><text class="t xs" x="1491.5" y="93.1"><tspan x="1491.5">Does not like</tspan><tspan x="1491.5" dy="4.3">following</tspan><tspan x="1491.5" dy="4.3">toolbar;</tspan><tspan x="1491.5" dy="4.3">would prefer it</tspan><tspan x="1491.5" dy="4.3">just at the top</tspan></text></g>
<g id="nv3"><rect class="sg" x="1426" y="127" width="41" height="41"/><text class="t xs" x="1446.5" y="140.1"><tspan x="1446.5">Just likes the</tspan><tspan x="1446.5" dy="4.3">following toolbar,</tspan><tspan x="1446.5" dy="4.3">does not have to</tspan><tspan x="1446.5" dy="4.3">scroll through the</tspan><tspan x="1446.5" dy="4.3">whole thing</tspan></text></g>
<g id="nv4"><rect class="sr" x="1471" y="127" width="41" height="41"/><text class="t xs" x="1491.5" y="140.1"><tspan x="1491.5">The box on the</tspan><tspan x="1491.5" dy="4.3">side is not useful:</tspan><tspan x="1491.5" dy="4.3">“I don't necessarily</tspan><tspan x="1491.5" dy="4.3">do anything, would</tspan><tspan x="1491.5" dy="4.3">never click on it”</tspan></text></g>

<g id="sp1"><rect class="sg" x="1090" y="410" width="41" height="41"/><text class="t xs" x="1110.5" y="423.1"><tspan x="1110.5">Took a long time to</tspan><tspan x="1110.5" dy="4.3">find the list, just</tspan><tspan x="1110.5" dy="4.3">scrolled through the</tspan><tspan x="1110.5" dy="4.3">directory of the</tspan><tspan x="1110.5" dy="4.3">specialization page</tspan></text></g>
<g id="sp2"><rect class="sg" x="1140" y="410" width="41" height="41"/><text class="t s" x="1160.5" y="420.5"><tspan x="1160.5">Looking at</tspan><tspan x="1160.5" dy="5.8">resources at</tspan><tspan x="1160.5" dy="5.8">bottom: “This</tspan><tspan x="1160.5" dy="5.8">is actually</tspan><tspan x="1160.5" dy="5.8">interesting”</tspan></text></g>
<g id="sp3"><rect class="sp" x="1202" y="410" width="41" height="41"/><text class="t xs" x="1222.5" y="421"><tspan x="1222.5">It was hidden</tspan><tspan x="1222.5" dy="4.3">part of page</tspan><tspan x="1222.5" dy="4.3">(from your</tspan><tspan x="1222.5" dy="4.3">interest and</tspan><tspan x="1222.5" dy="4.3">“keep exploring”)</tspan><tspan x="1222.5" dy="4.3">should be on top</tspan></text></g>
<g id="sp4"><rect class="sr" x="1262" y="410" width="41" height="41"/><text class="t xs" x="1282.5" y="421"><tspan x="1282.5">Kinda confusing</tspan><tspan x="1282.5" dy="4.3">- as the user</tspan><tspan x="1282.5" dy="4.3">specializations</tspan><tspan x="1282.5" dy="4.3">are at the end,</tspan><tspan x="1282.5" dy="4.3">at the bottom of</tspan><tspan x="1282.5" dy="4.3">the page</tspan></text></g>
<g id="sp5"><rect class="sg" x="1090" y="459" width="41" height="41"/><text class="t xs" x="1110.5" y="470"><tspan x="1110.5">Likes how when you</tspan><tspan x="1110.5" dy="4.3">click a specific</tspan><tspan x="1110.5" dy="4.3">specialization</tspan><tspan x="1110.5" dy="4.3">there is other related</tspan><tspan x="1110.5" dy="4.3">opportunities and</tspan><tspan x="1110.5" dy="4.3">specializations</tspan></text></g>
<g id="sp6"><rect class="sg" x="1140" y="459" width="41" height="41"/><text class="t xs" x="1160.5" y="472.1"><tspan x="1160.5">Likes how the</tspan><tspan x="1160.5" dy="4.3">“specialization”</tspan><tspan x="1160.5" dy="4.3">section is where</tspan><tspan x="1160.5" dy="4.3">in line with what</tspan><tspan x="1160.5" dy="4.3">she's looking for</tspan></text></g>
<g id="sp7"><rect class="sp" x="1202" y="459" width="41" height="41"/><text class="t xs" x="1222.5" y="470"><tspan x="1222.5">“I wish it could</tspan><tspan x="1222.5" dy="4.3">be more easier to</tspan><tspan x="1222.5" dy="4.3">find specialization</tspan><tspan x="1222.5" dy="4.3">info on here” - that</tspan><tspan x="1222.5" dy="4.3">she's looking for a</tspan><tspan x="1222.5" dy="4.3">specialization</tspan></text></g>
<g id="sp8"><rect class="sr" x="1262" y="459" width="41" height="41"/><text class="t s" x="1282.5" y="469.5"><tspan x="1282.5">This part of</tspan><tspan x="1282.5" dy="5.8">info on the</tspan><tspan x="1282.5" dy="5.8">page does not</tspan><tspan x="1282.5" dy="5.8">matter so</tspan><tspan x="1282.5" dy="5.8">much to user</tspan></text></g>
<g id="sp9"><rect class="sg" x="1090" y="508" width="41" height="41"/><text class="t xs" x="1110.5" y="519"><tspan x="1110.5">If you do the whole</tspan><tspan x="1110.5" dy="4.3">page the first time</tspan><tspan x="1110.5" dy="4.3">you go through</tspan><tspan x="1110.5" dy="4.3">you'd miss the</tspan><tspan x="1110.5" dy="4.3">“directory” - the</tspan><tspan x="1110.5" dy="4.3">specialization page</tspan></text></g>
<g id="sp10"><rect class="sp" x="1202" y="508" width="41" height="41"/><text class="t xs" x="1222.5" y="519"><tspan x="1222.5">“Nice info about</tspan><tspan x="1222.5" dy="4.3">different types</tspan><tspan x="1222.5" dy="4.3">of jobs out there”</tspan><tspan x="1222.5" dy="4.3">“Not scrolling</tspan><tspan x="1222.5" dy="4.3">further down the</tspan><tspan x="1222.5" dy="4.3">page is easier”</tspan></text></g>

<!-- PANEL 3 -->
<g id="h-links"><rect class="hb3" x="1843" y="39" width="170" height="36" rx="8"/><text class="ht h8" x="1928" y="59.8">LINKS CLICKED</text></g>
<g id="h-wyam3"><rect class="hb3" x="1574" y="90" width="154" height="31" rx="7"/><text class="ht h7" x="1651" y="108">Who You Are Matters</text></g>
<g id="h-getexp3"><rect class="hb3" x="1793" y="90" width="124" height="31" rx="7"/><text class="ht h7" x="1855" y="108">Get Experiences</text></g>
<g id="h-toolkit3"><rect class="hb3" x="1987" y="90" width="124" height="31" rx="7"/><text class="ht h7" x="2049" y="108">Use Your Toolkit</text></g>
<g id="h-spec3"><rect class="hb3" x="2151" y="90" width="124" height="31" rx="7"/><text class="ht h7" x="2213" y="108">Specializations</text></g>
<g id="h-external"><rect class="hb3" x="1793" y="338" width="124" height="31" rx="7"/><text class="ht h7" x="1855" y="356">External Links</text></g>
<g id="h-nav3"><rect class="hb3" x="1987" y="338" width="124" height="31" rx="7"/><text class="ht h7" x="2049" y="356">Navigation Box</text></g>

<g id="b1"><rect class="sb" x="1598" y="132" width="43" height="43"/><text class="t tb m" x="1619.5" y="147.9"><tspan x="1619.5">clicked on</tspan><tspan x="1619.5" dy="7.8">‘know your</tspan><tspan x="1619.5" dy="7.8">strengths’</tspan></text></g>
<g id="b2"><rect class="sb" x="1661" y="132" width="43" height="43"/><text class="t tb m" x="1682.5" y="144"><tspan x="1682.5">clicked</tspan><tspan x="1682.5" dy="7.8">‘identify</tspan><tspan x="1682.5" dy="7.8">your</tspan><tspan x="1682.5" dy="7.8">values’ pdf</tspan></text></g>
<g id="b3"><rect class="sb" x="1661" y="181" width="43" height="43"/><text class="t tb m" x="1682.5" y="193"><tspan x="1682.5">clicked</tspan><tspan x="1682.5" dy="7.8">‘identify</tspan><tspan x="1682.5" dy="7.8">your</tspan><tspan x="1682.5" dy="7.8">values’ pdf</tspan></text></g>
<g id="b4"><rect class="sb" x="1661" y="230" width="43" height="43"/><text class="t tb m" x="1682.5" y="242"><tspan x="1682.5">clicked</tspan><tspan x="1682.5" dy="7.8">‘identify</tspan><tspan x="1682.5" dy="7.8">your</tspan><tspan x="1682.5" dy="7.8">values’ pdf</tspan></text></g>
<g id="b5"><rect class="sb" x="1661" y="279" width="43" height="43"/><text class="t tb m" x="1682.5" y="291"><tspan x="1682.5">clicked</tspan><tspan x="1682.5" dy="7.8">‘identify</tspan><tspan x="1682.5" dy="7.8">your</tspan><tspan x="1682.5" dy="7.8">values’ pdf</tspan></text></g>
<g id="b6"><rect class="sb" x="1759" y="132" width="43" height="43"/><text class="t tb xs" x="1780.5" y="146.1"><tspan x="1780.5">clicked</tspan><tspan x="1780.5" dy="4.3">‘explore</tspan><tspan x="1780.5" dy="4.3">options’ for</tspan><tspan x="1780.5" dy="4.3">international</tspan><tspan x="1780.5" dy="4.3">experience</tspan></text></g>
<g id="b7"><rect class="sb" x="1809" y="132" width="43" height="43"/><text class="t tb s" x="1830.5" y="146.4"><tspan x="1830.5">clicked</tspan><tspan x="1830.5" dy="5.8">research</tspan><tspan x="1830.5" dy="5.8">opportunities</tspan><tspan x="1830.5" dy="5.8">link</tspan></text></g>
<g id="b8"><rect class="sb" x="1809" y="181" width="43" height="43"/><text class="t tb s" x="1830.5" y="195.4"><tspan x="1830.5">clicked</tspan><tspan x="1830.5" dy="5.8">research</tspan><tspan x="1830.5" dy="5.8">opportunities</tspan><tspan x="1830.5" dy="5.8">link</tspan></text></g>
<g id="b9"><rect class="sb" x="1809" y="232" width="43" height="43"/><text class="t tb s" x="1830.5" y="246.4"><tspan x="1830.5">clicked</tspan><tspan x="1830.5" dy="5.8">research</tspan><tspan x="1830.5" dy="5.8">opportunities</tspan><tspan x="1830.5" dy="5.8">link</tspan></text></g>
<g id="b10"><rect class="sb" x="1859" y="132" width="43" height="43"/><text class="t tb l" x="1880.5" y="145.7"><tspan x="1880.5">clicked</tspan><tspan x="1880.5" dy="10.8">co-op</tspan><tspan x="1880.5" dy="10.8">link</tspan></text></g>
<g id="b11"><rect class="sb" x="1908" y="132" width="44" height="43"/><text class="t tb ml" x="1930" y="146.5"><tspan x="1930">clicked</tspan><tspan x="1930" dy="10.5">work-</tspan><tspan x="1930" dy="10.5">learn link</tspan></text></g>
<g id="b12"><rect class="sb" x="1908" y="181" width="44" height="43"/><text class="t tb ml" x="1930" y="195.5"><tspan x="1930">clicked</tspan><tspan x="1930" dy="10.5">work-</tspan><tspan x="1930" dy="10.5">learn link</tspan></text></g>
<g id="b13"><rect class="sb" x="2027" y="132" width="43" height="43"/><text class="t tb ms" x="2048.5" y="145.1"><tspan x="2048.5">clicked</tspan><tspan x="2048.5" dy="6.8">improve</tspan><tspan x="2048.5" dy="6.8">‘your cover</tspan><tspan x="2048.5" dy="6.8">letter’</tspan></text></g>
<g id="b14"><rect class="sb" x="2027" y="181" width="43" height="43"/><text class="t tb ms" x="2048.5" y="194.1"><tspan x="2048.5">clicked</tspan><tspan x="2048.5" dy="6.8">improve</tspan><tspan x="2048.5" dy="6.8">‘your cover</tspan><tspan x="2048.5" dy="6.8">letter’</tspan></text></g>
<g id="b15"><rect class="sb" x="2159" y="132" width="44" height="43"/><text class="t tb xs" x="2181" y="146.1"><tspan x="2181">10/12 students</tspan><tspan x="2181" dy="4.3">clicked on at</tspan><tspan x="2181" dy="4.3">least one</tspan><tspan x="2181" dy="4.3">specialization</tspan><tspan x="2181" dy="4.3">box</tspan></text></g>
<g id="b16"><rect class="sb" x="2224" y="132" width="43" height="43"/><text class="t tb s" x="2245.5" y="146.4"><tspan x="2245.5">clicked for</tspan><tspan x="2245.5" dy="5.8">specific</tspan><tspan x="2245.5" dy="5.8">career within</tspan><tspan x="2245.5" dy="5.8">specialization</tspan></text></g>
<g id="b17"><rect class="sb" x="2224" y="181" width="43" height="43"/><text class="t tb s" x="2245.5" y="195.4"><tspan x="2245.5">clicked for</tspan><tspan x="2245.5" dy="5.8">specific</tspan><tspan x="2245.5" dy="5.8">career within</tspan><tspan x="2245.5" dy="5.8">specialization</tspan></text></g>
<g id="b18"><rect class="sb" x="2224" y="230" width="43" height="43"/><text class="t tb s" x="2245.5" y="244.4"><tspan x="2245.5">clicked for</tspan><tspan x="2245.5" dy="5.8">specific</tspan><tspan x="2245.5" dy="5.8">career within</tspan><tspan x="2245.5" dy="5.8">specialization</tspan></text></g>
<g id="b19"><rect class="sb" x="2027" y="382" width="44" height="43"/><text class="t tb m" x="2049" y="397.9"><tspan x="2049">clicked on</tspan><tspan x="2049" dy="7.8">navigation</tspan><tspan x="2049" dy="7.8">box</tspan></text></g>
<g id="b20"><rect class="sb" x="2027" y="434" width="44" height="44"/><text class="t tb m" x="2049" y="450.2"><tspan x="2049">clicked on</tspan><tspan x="2049" dy="7.8">navigation</tspan><tspan x="2049" dy="7.8">box</tspan></text></g>
<g id="e1"><rect class="sg" x="1769" y="382" width="43" height="43"/><text class="t s" x="1790.5" y="396.4"><tspan x="1790.5">Likes how</tspan><tspan x="1790.5" dy="5.8">provides links</tspan><tspan x="1790.5" dy="5.8">out to other</tspan><tspan x="1790.5" dy="5.8">resources</tspan></text></g>
<g id="e2"><rect class="sp" x="1827" y="382" width="43" height="43"/><text class="t xs" x="1848.5" y="396.1"><tspan x="1848.5">Doesn't think links are</tspan><tspan x="1848.5" dy="4.3">useful in a</tspan><tspan x="1848.5" dy="4.3">website like this</tspan><tspan x="1848.5" dy="4.3">- defining users in</tspan><tspan x="1848.5" dy="4.3">the right direction</tspan></text></g>
<g id="e3"><rect class="sp" x="1827" y="434" width="43" height="43"/><text class="t xs" x="1848.5" y="444.7"><tspan x="1848.5">Feels that it's all so</tspan><tspan x="1848.5" dy="4.3">great, both there's</tspan><tspan x="1848.5" dy="4.3">UBC Science</tspan><tspan x="1848.5" dy="4.3">website under the</tspan><tspan x="1848.5" dy="4.3">“research</tspan><tspan x="1848.5" dy="4.3">opportunities”</tspan></text></g>
<g id="e4"><rect class="sr" x="1888" y="382" width="43" height="43"/><text class="t xs" x="1909.5" y="394"><tspan x="1909.5">Feels it is not</tspan><tspan x="1909.5" dy="4.3">really connected to</tspan><tspan x="1909.5" dy="4.3">the second part, in</tspan><tspan x="1909.5" dy="4.3">the first it is not</tspan><tspan x="1909.5" dy="4.3">completely shown as</tspan><tspan x="1909.5" dy="4.3">on the other page</tspan></text></g>

<g class="grid" id="seams">
<line x1="304" y1="0" x2="304" y2="580"/><line x1="598" y1="0" x2="598" y2="580"/><line x1="1183" y1="0" x2="1183" y2="580"/><line x1="1478" y1="0" x2="1478" y2="580"/><line x1="1770" y1="0" x2="1770" y2="580"/><line x1="2063" y1="0" x2="2063" y2="580"/>
<line x1="0" y1="74" x2="2316" y2="74"/><line x1="0" y1="368" x2="2316" y2="368"/>
</g>
</svg>
